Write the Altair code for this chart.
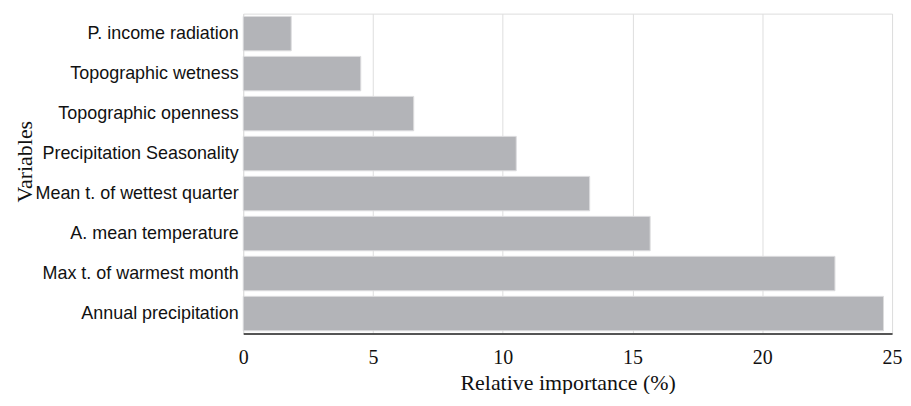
import altair as alt
import pandas as pd

variables = [
    "P. income radiation",
    "Topographic wetness",
    "Topographic openness",
    "Precipitation Seasonality",
    "Mean t. of wettest quarter",
    "A. mean temperature",
    "Max t. of warmest month",
    "Annual precipitation",
]
importance = [1.85, 4.53, 6.57, 10.52, 13.35, 15.68, 22.8, 24.67]
x_ticks = [0, 5, 10, 15, 20, 25]

df = pd.DataFrame({"Variable": variables, "Importance": importance})

chart = (
    alt.Chart(df)
    .mark_bar(color="#b3b4b8", stroke="#dcdcde", strokeWidth=1)
    .encode(
        x=alt.X(
            "Importance:Q",
            scale=alt.Scale(domain=[0, 25], nice=False),
            axis=alt.Axis(
                title="Relative importance (%)",
                values=x_ticks,
                grid=True,
                gridColor="#dedede",
                gridWidth=1,
                ticks=False,
                domain=True,
                domainColor="#555555",
                domainWidth=2,
                labelFont="Liberation Serif",
                labelFontSize=20,
                labelColor="#111111",
                labelBaseline="alphabetic",
                labelPadding=30,
                labelFlush=False,
                labelOverlap=False,
                titleFont="Liberation Serif",
                titleFontSize=22,
                titleFontWeight="normal",
                titleColor="#111111",
                titleBaseline="alphabetic",
                titleY=56,
            ),
        ),
        y=alt.Y(
            "Variable:N",
            sort=variables,
            scale=alt.Scale(paddingInner=0.14, paddingOuter=0.07),
            axis=alt.Axis(
                title="Variables",
                ticks=False,
                domain=False,
                grid=False,
                labelFont="Liberation Sans",
                labelFontSize=18,
                labelColor="#111111",
                labelPadding=5,
                labelLimit=300,
                titleFont="Liberation Serif",
                titleFontSize=22,
                titleFontWeight="normal",
                titleColor="#111111",
                titleAngle=-90,
                titleAlign="center",
                titleBaseline="alphabetic",
                titleX=-212,
                titleY=148,
            ),
        ),
    )
    .properties(
        width=651,
        height=321,
        autosize=alt.AutoSizeParams(type="none"),
        padding={"left": 236, "top": 5, "right": 11, "bottom": 60},
    )
    .configure_view(stroke=None)
    .configure(background="white")
)

chart.save("out.html", embed_options={"renderer": "svg", "actions": False})
